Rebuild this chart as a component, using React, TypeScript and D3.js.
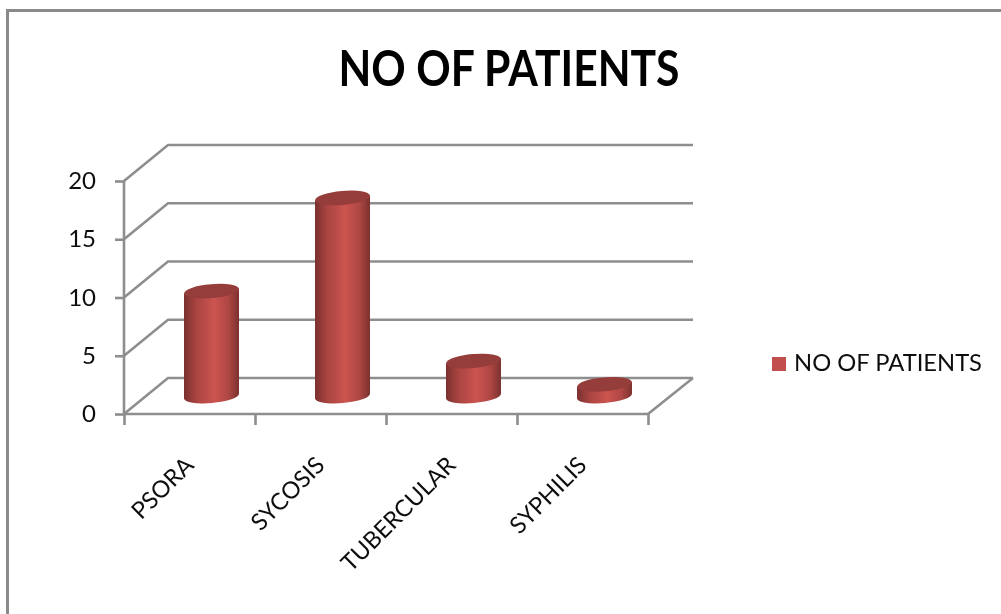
import { useEffect, useRef } from 'react';
import * as d3 from 'd3';

const categories = ['PSORA', 'SYCOSIS', 'TUBERCULAR', 'SYPHILIS'];
const patients = [9, 17, 3, 1];
const yTicks = [0, 5, 10, 15, 20];
const seriesName = 'NO OF PATIENTS';
const title = 'NO OF PATIENTS';

const width = 1001;
const height = 614;
const font = 'Lato, "Open Sans", sans-serif';
const gridColor = '#8e8e8e';
// the floor is sheared back by this much
const depth = { x: 44, y: -36 };

export default function App() {
	const ref = useRef<SVGSVGElement>(null);

	useEffect(() => {
		document.body.style.margin = '0';
		const svg = d3.select(ref.current!);
		svg.selectAll('*').remove();

		const x = d3.scaleBand().domain(categories).range([124, 648]);
		const xEdges = d3.scaleLinear().domain([0, categories.length]).range([124, 648]);
		const y = d3.scaleLinear().domain([0, 20]).range([414, 181]);

		const defs = svg.append('defs');
		const grad = defs.append('linearGradient').attr('id', 'cyl');
		[
			[0, '#7a302e'],
			[0.22, '#a84441'],
			[0.55, '#cc5450'],
			[0.8, '#b04744'],
			[1, '#7c312f'],
		].forEach(([o, c]) => {
			grad.append('stop').attr('offset', o as number).attr('stop-color', c as string);
		});
		defs.append('filter').attr('id', 'soft')
			.append('feGaussianBlur').attr('stdDeviation', 0.6);

		const root = svg.append('g').attr('filter', 'url(#soft)');

		// outer frame
		root.append('path')
			.attr('d', `M7.5,${height + 5} V10.5 H${width + 5}`)
			.attr('fill', 'none')
			.attr('stroke', '#8a8a8a')
			.attr('stroke-width', 3);

		root.append('text')
			.attr('x', 509)
			.attr('y', 86)
			.attr('text-anchor', 'middle')
			.attr('font-family', font)
			.attr('font-weight', 700)
			.attr('font-size', 49)
			.attr('textLength', 341)
			.attr('lengthAdjust', 'spacingAndGlyphs')
			.attr('fill', '#000')
			.text(title);

		const plot = root.append('g');

		// back wall lines and their diagonals on the side wall
		plot.append('g')
			.selectAll('path')
			.data(yTicks)
			.join('path')
			.attr('d', d => `M${x.range()[0]},${y(d)} l${depth.x},${depth.y} H693`)
			.attr('fill', 'none')
			.attr('stroke', gridColor)
			.attr('stroke-width', 2.6);

		// floor edge on the right
		plot.append('path')
			.attr('d', `M648,414 l${depth.x + 1},${depth.y}`)
			.attr('fill', 'none')
			.attr('stroke', gridColor)
			.attr('stroke-width', 2.6);

		const yAxis = plot.append('g')
			.attr('transform', 'translate(124,0)')
			.call(d3.axisLeft(y).tickValues(yTicks).tickSize(9).tickPadding(19));
		const xAxis = plot.append('g')
			.attr('transform', 'translate(0,414)')
			.call(d3.axisBottom(xEdges).ticks(categories.length).tickSize(11).tickFormat(() => ''));
		[yAxis, xAxis].forEach(a => {
			a.selectAll('path,line').attr('stroke', gridColor).attr('stroke-width', 2.6);
			a.select('.domain').attr('d', a === yAxis ? 'M0,181V414' : 'M124,0H648');
		});
		yAxis.selectAll('text')
			.attr('font-family', font)
			.attr('font-size', 24)
			.attr('fill', '#111');

		// cylinders stand in the middle of the floor
		const rx = 27.5;
		const ry = 7;
		const tilt = -5;
		const lift = 18;
		const dx = 22;
		const tiltDy = Math.sin((tilt * Math.PI) / 180) * rx;
		const bars = plot.append('g')
			.selectAll('g')
			.data(categories.map((c, i) => ({ c, v: patients[i] })))
			.join('g')
			.attr('transform', d => `translate(${x(d.c)! + x.bandwidth() / 2 + dx},${y(0) - lift})`);

		bars.append('path')
			.attr('d', d => {
				const h = y(0) - y(d.v);
				const t = -h;
				return `M${-rx},${t - tiltDy} L${-rx},${-tiltDy}`
					+ ` A${rx},${ry} ${tilt} 0 0 ${rx},${tiltDy}`
					+ ` L${rx},${t + tiltDy} Z`;
			})
			.attr('fill', 'url(#cyl)');

		bars.append('ellipse')
			.attr('rx', rx)
			.attr('ry', ry)
			.attr('transform', d => `translate(0,${y(d.v) - y(0)}) rotate(${tilt})`)
			.attr('fill', '#953c3a');

		// rotated category labels end under each band
		root.append('g')
			.selectAll('text')
			.data(categories)
			.join('text')
			.attr('transform', d => `translate(${x(d)! + x.bandwidth() / 2 - 6},455) rotate(-45)`)
			.attr('text-anchor', 'end')
			.attr('dy', '0.7em')
			.attr('font-family', font)
			.attr('font-size', 23.5)
			.attr('fill', '#111')
			.text(d => d);

		// legend
		root.append('rect')
			.attr('x', 772)
			.attr('y', 357)
			.attr('width', 14)
			.attr('height', 14)
			.attr('fill', '#c0504d');
		root.append('text')
			.attr('x', 794)
			.attr('y', 371)
			.attr('font-family', font)
			.attr('font-size', 24)
			.attr('textLength', 188)
			.attr('lengthAdjust', 'spacingAndGlyphs')
			.attr('fill', '#111')
			.text(seriesName);
	}, []);

	return <svg ref={ref} width={width} height={height} style={{ display: 'block', background: '#fff' }} />;
}
